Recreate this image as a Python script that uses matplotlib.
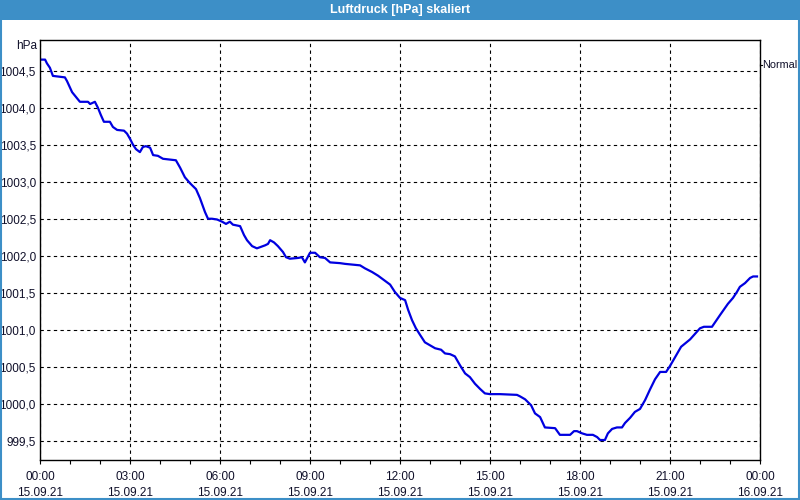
import matplotlib.pyplot as plt
import matplotlib.patches as mpatches
from matplotlib.ticker import FixedLocator, MultipleLocator, FuncFormatter

# hours since 15.09.21 00:00 and pressure in hPa
hours = [0.0, 0.17, 0.23, 0.33, 0.43, 0.83, 0.9, 1.0, 1.07, 1.17, 1.33, 1.6, 1.67, 1.83,
         1.93, 2.03, 2.13, 2.33, 2.43, 2.57, 2.8, 2.9, 3.0, 3.1, 3.2, 3.33, 3.43, 3.53,
         3.67, 3.77, 3.93, 4.1, 4.53, 4.67, 4.83, 5.0, 5.2, 5.33, 5.43, 5.5, 5.6, 5.73,
         5.9, 6.07, 6.2, 6.33, 6.43, 6.67, 6.8, 6.9, 7.07, 7.23, 7.5, 7.6, 7.67, 7.8,
         7.93, 8.1, 8.2, 8.33, 8.6, 8.73, 8.83, 9.0, 9.17, 9.33, 9.5, 9.67, 10.0, 10.17,
         10.67, 10.83, 11.07, 11.27, 11.5, 11.67, 11.83, 12.0, 12.17, 12.27, 12.4, 12.53,
         12.67, 12.83, 13.0, 13.17, 13.37, 13.5, 13.67, 13.83, 14.0, 14.17, 14.33, 14.5,
         14.67, 14.83, 15.0, 15.33, 15.9, 16.0, 16.17, 16.37, 16.5, 16.67, 16.83, 17.17,
         17.33, 17.67, 17.8, 17.9, 18.07, 18.23, 18.43, 18.57, 18.67, 18.83, 18.93, 19.07,
         19.23, 19.4, 19.5, 19.67, 19.83, 20.0, 20.17, 20.33, 20.5, 20.67, 20.87, 21.0,
         21.17, 21.37, 21.67, 22.0, 22.13, 22.4, 22.5, 22.67, 22.93, 23.1, 23.23, 23.33,
         23.5, 23.67, 23.77, 23.9]
pressure = [1004.65, 1004.65, 1004.60, 1004.54, 1004.43, 1004.41, 1004.36, 1004.27, 1004.21,
            1004.16, 1004.08, 1004.08, 1004.05, 1004.08, 1004.00, 1003.90, 1003.81, 1003.81,
            1003.74, 1003.70, 1003.69, 1003.65, 1003.58, 1003.50, 1003.44, 1003.40, 1003.47,
            1003.48, 1003.46, 1003.36, 1003.35, 1003.31, 1003.29, 1003.19, 1003.06, 1002.98,
            1002.90, 1002.78, 1002.67, 1002.59, 1002.50, 1002.50, 1002.49, 1002.46, 1002.43,
            1002.46, 1002.42, 1002.40, 1002.28, 1002.21, 1002.13, 1002.10, 1002.14, 1002.16,
            1002.21, 1002.18, 1002.13, 1002.05, 1001.98, 1001.96, 1001.97, 1001.98, 1001.91,
            1002.04, 1002.04, 1001.98, 1001.97, 1001.91, 1001.90, 1001.89, 1001.87, 1001.83,
            1001.78, 1001.73, 1001.66, 1001.61, 1001.51, 1001.43, 1001.40, 1001.27, 1001.13,
            1001.02, 1000.93, 1000.83, 1000.79, 1000.75, 1000.73, 1000.68, 1000.67, 1000.64,
            1000.52, 1000.41, 1000.36, 1000.27, 1000.20, 1000.14, 1000.13, 1000.13, 1000.12,
            1000.10, 1000.06, 999.98, 999.87, 999.82, 999.68, 999.67, 999.58, 999.58, 999.63,
            999.63, 999.60, 999.58, 999.58, 999.55, 999.51, 999.51, 999.60, 999.66, 999.68,
            999.68, 999.74, 999.81, 999.89, 999.93, 1000.05, 1000.19, 1000.33, 1000.43,
            1000.43, 1000.51, 1000.63, 1000.77, 1000.87, 1001.02, 1001.04, 1001.04, 1001.10,
            1001.20, 1001.35, 1001.43, 1001.51, 1001.58, 1001.63, 1001.70, 1001.72, 1001.72]

x_ticks = [0, 3, 6, 9, 12, 15, 18, 21, 24]
x_labels = ["00:00\n15.09.21", "03:00\n15.09.21", "06:00\n15.09.21", "09:00\n15.09.21",
            "12:00\n15.09.21", "15:00\n15.09.21", "18:00\n15.09.21", "21:00\n15.09.21",
            "00:00\n16.09.21"]
y_ticks = [999.5, 1000.0, 1000.5, 1001.0, 1001.5, 1002.0, 1002.5, 1003.0, 1003.5, 1004.0, 1004.5]

txt = "#10102a"
plt.rcParams["font.family"] = ["Liberation Sans", "DejaVu Sans"]

fig = plt.figure(figsize=(8, 5), dpi=100)
fig.patch.set_facecolor("white")

# title bar + window border
fig.patches.append(mpatches.Rectangle((0, 1 - 20 / 500), 1, 20 / 500, transform=fig.transFigure,
                                      facecolor="#3d8fc7", edgecolor="none", zorder=0))
fig.patches.append(mpatches.Rectangle((0.001, 0.002), 0.998, 0.996, transform=fig.transFigure,
                                      facecolor="none", edgecolor="#3d8fc7", linewidth=1.5, zorder=0))
fig.text(0.5, 1 - 10 / 500, "Luftdruck [hPa] skaliert", color="white", fontsize=9,
         fontweight="bold", ha="center", va="center")

ax = fig.add_axes([40 / 800, 40 / 500, 720 / 800, 420 / 500])
ax.plot(hours, pressure, color="#0000e0", linewidth=1.6)

ax.set_xlim(0, 24)
ax.set_ylim(999.24, 1004.915)
ax.xaxis.set_major_locator(FixedLocator(x_ticks))
ax.set_xticklabels(x_labels, linespacing=1.45)
ax.xaxis.set_minor_locator(MultipleLocator(1))
ax.yaxis.set_major_locator(FixedLocator(y_ticks))
ax.yaxis.set_major_formatter(FuncFormatter(lambda v, _: f"{v:.1f}".replace(".", ",")))

ax.grid(True, which="major", color="black", linestyle=(0, (3, 3)), linewidth=0.8)
ax.tick_params(axis="x", which="both", direction="out", length=3, width=0.8, colors="black",
               labelcolor=txt, labelsize=8.5, pad=5)
ax.tick_params(axis="y", length=0, labelcolor=txt, labelsize=8.5, pad=3)
for s in ax.spines.values():
    s.set_color("black")
    s.set_linewidth(1)

ax.text(-0.004, 1 - 6 / 420, "hPa", transform=ax.transAxes, ha="right", va="center",
        fontsize=8.5, color=txt)
ax.text(1.003, 1 - 25 / 420, "Normal", transform=ax.transAxes, ha="left", va="center",
        fontsize=7.8, color=txt)
ax.plot([1.0, 1.003], [1 - 25 / 420] * 2, transform=ax.transAxes, color="black",
        linewidth=0.8, clip_on=False)

fig.savefig("out.png", dpi=100)
